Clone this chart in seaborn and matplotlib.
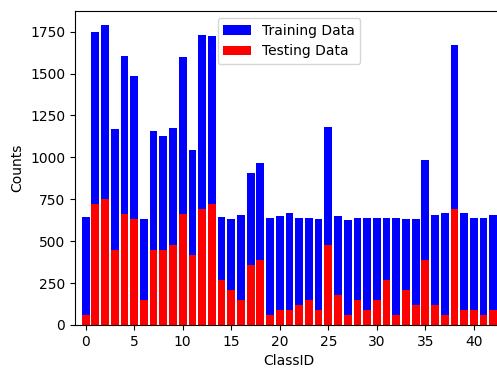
import matplotlib
matplotlib.use("Agg")
import matplotlib.pyplot as plt
import seaborn as sns
import numpy as np
import pandas as pd

class_ids = list(range(43))
train_counts = [646, 1746, 1790, 1167, 1607, 1487, 630, 1159, 1126, 1177,
                1599, 1046, 1730, 1722, 646, 630, 656, 909, 968, 640,
                648, 666, 640, 640, 630, 1183, 648, 624, 640, 640,
                640, 640, 640, 630, 630, 986, 656, 666, 1668, 666,
                640, 640, 656]
test_counts = [60, 720, 750, 450, 660, 630, 150, 450, 450, 480,
               660, 420, 690, 720, 270, 210, 150, 360, 390, 60,
               90, 90, 120, 150, 90, 480, 180, 60, 150, 90,
               150, 270, 60, 210, 120, 390, 120, 60, 690, 90,
               90, 60, 90]

df = pd.DataFrame({"ClassID": class_ids, "train": train_counts, "test": test_counts})

fig = plt.figure(figsize=(4.97, 3.69), dpi=100)
W, H = 497, 369
left_px, right_px, top_px, bottom_px = 75, 503, 11, 325
ax = fig.add_axes([left_px / W, (H - bottom_px) / H,
                   (right_px - left_px) / W, (bottom_px - top_px) / H])

sns.barplot(data=df, x="ClassID", y="train", color="blue", saturation=1,
            native_scale=True, width=0.8, label="Training Data", ax=ax)
sns.barplot(data=df, x="ClassID", y="test", color="red", saturation=1,
            native_scale=True, width=0.8, label="Testing Data", ax=ax)

ax.set_xlim(-1.1, 43.0)
ax.set_ylim(0, 1873)
ax.set_xticks([0, 5, 10, 15, 20, 25, 30, 35, 40])
ax.set_yticks([0, 250, 500, 750, 1000, 1250, 1500, 1750])
ax.set_xlabel("ClassID")
ax.set_ylabel("Counts")
ax.legend(loc="upper center")

fig.savefig("out.png", dpi=100)
